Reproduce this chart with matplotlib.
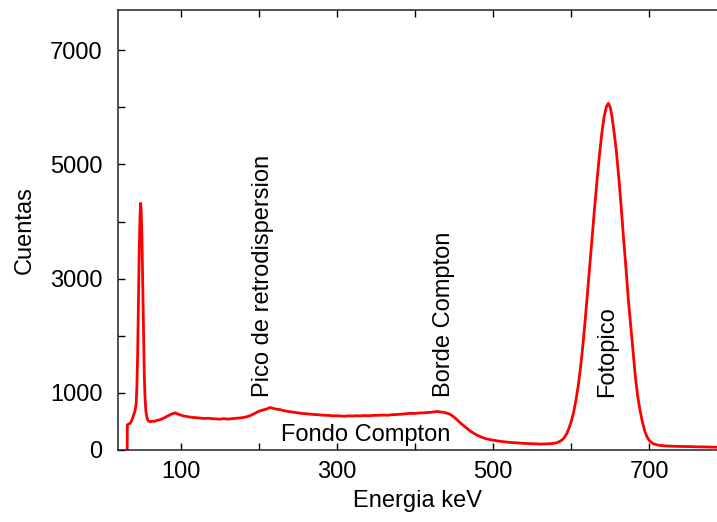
import matplotlib
matplotlib.use("Agg")
import matplotlib.pyplot as plt

plt.rcParams['font.family'] = ['Liberation Sans', 'DejaVu Sans']

energy = [31.0, 31.3, 33, 35, 37, 39, 41, 42.5, 43.5, 44.5, 45.5, 46.5, 47.5, 48.3, 49, 50, 51, 52, 53, 54,
          55, 56.5, 58, 60, 62, 64, 66, 68, 70, 73, 76, 79, 82, 85, 88, 91, 93, 95, 98, 102,
          106, 110, 115, 120, 125, 130, 135, 140, 145, 150, 155, 160, 165, 170, 175, 180, 185, 190, 195, 200,
          205, 210, 214, 218, 222, 226, 230, 235, 240, 245, 250, 255, 260, 265, 270, 275, 280, 285, 290, 295,
          300, 305, 310, 315, 320, 325, 330, 335, 340, 345, 350, 355, 360, 365, 370, 375, 380, 385, 390, 395,
          400, 405, 410, 415, 420, 425, 428, 432, 436, 440, 444, 448, 452, 456, 460, 464, 468, 472, 476, 480,
          485, 490, 495, 500, 505, 510, 515, 520, 525, 530, 535, 540, 545, 550, 555, 560, 565, 570, 575, 580,
          584, 588, 591, 594, 597, 600, 603, 606, 609, 612, 615, 618, 621, 624, 627, 630, 633, 636, 639, 642,
          645, 647.5, 650, 652, 655, 658, 661, 664, 667, 670, 673, 676, 679, 682, 685, 688, 691, 694, 697, 700,
          703, 706, 710, 715, 720, 730, 740, 750, 760, 770, 780, 787]
counts = [0, 440, 455, 470, 520, 600, 680, 800, 1100, 1700, 2600, 3500, 4100, 4320, 4200, 3700, 2900, 2000, 1300, 900,
          680, 560, 510, 495, 500, 505, 498, 515, 520, 530, 548, 565, 590, 610, 630, 645, 650, 635, 620, 600,
          590, 580, 570, 565, 558, 552, 556, 548, 545, 540, 550, 540, 548, 555, 560, 570, 585, 610, 645, 680,
          700, 720, 745, 730, 715, 710, 695, 680, 670, 660, 650, 640, 635, 628, 622, 618, 612, 608, 605, 598,
          600, 595, 592, 598, 595, 600, 598, 603, 600, 605, 607, 610, 612, 608, 618, 620, 625, 630, 638, 642,
          640, 648, 650, 655, 660, 668, 675, 668, 660, 648, 630, 595, 550, 500, 450, 405, 360, 320, 285, 255,
          225, 200, 185, 172, 160, 150, 142, 135, 130, 125, 120, 115, 112, 108, 105, 104, 105, 108, 112, 122,
          140, 175, 215, 280, 380, 500, 660, 870, 1130, 1460, 1850, 2300, 2780, 3280, 3780, 4260, 4720, 5150, 5530, 5830,
          6010, 6070, 6000, 5850, 5550, 5200, 4750, 4250, 3700, 3200, 2650, 2200, 1750, 1300, 950, 700, 500, 340, 230, 165,
          130, 105, 88, 78, 72, 66, 62, 60, 56, 54, 50, 48]

x_ticks = [100, 200, 300, 400, 500, 600, 700]
x_tick_labels = ['100', '', '300', '', '500', '', '700']
y_ticks = [0, 1000, 2000, 3000, 4000, 5000, 6000, 7000]
y_tick_labels = ['0', '1000', '', '3000', '', '5000', '', '7000']

labels_v = ['Pico de retrodispersion', 'Borde Compton', 'Fotopico']
labels_v_x = [205, 437, 646]
labels_v_y = [930, 930, 930]
label_h = 'Fondo Compton'
label_h_x = 336
label_h_y = 265

fig = plt.figure(figsize=(7.17, 5.22), dpi=100)
ax = fig.add_axes([118/717, 1 - 450/522, 1 - 118/717, 440/522])
ax.plot(energy, counts, color='#ff0000', lw=2.0)
ax.set_xlim(19.3, 786.7)
ax.set_ylim(0, 7705)

ax.set_xticks(x_ticks)
ax.set_xticklabels(x_tick_labels)
ax.set_yticks(y_ticks)
ax.set_yticklabels(y_tick_labels)
ax.tick_params(direction='in', length=5, width=1, labelsize=17, top=True, right=False, colors='black')
ax.tick_params(axis='x', pad=8)
ax.tick_params(axis='y', pad=11)
for s in ['left', 'bottom', 'top']:
    ax.spines[s].set_linewidth(1.1)
    ax.spines[s].set_color('#222222')
ax.spines['right'].set_visible(False)

ax.set_xlabel('Energia keV', fontsize=17, labelpad=5)
ax.set_ylabel('Cuentas', fontsize=17, labelpad=10)

for t, x, y in zip(labels_v, labels_v_x, labels_v_y):
    ax.text(x, y, t, rotation=90, ha='center', va='bottom', fontsize=17)
ax.text(label_h_x, label_h_y, label_h, ha='center', va='center', fontsize=17)

fig.savefig('out.png', dpi=100)
